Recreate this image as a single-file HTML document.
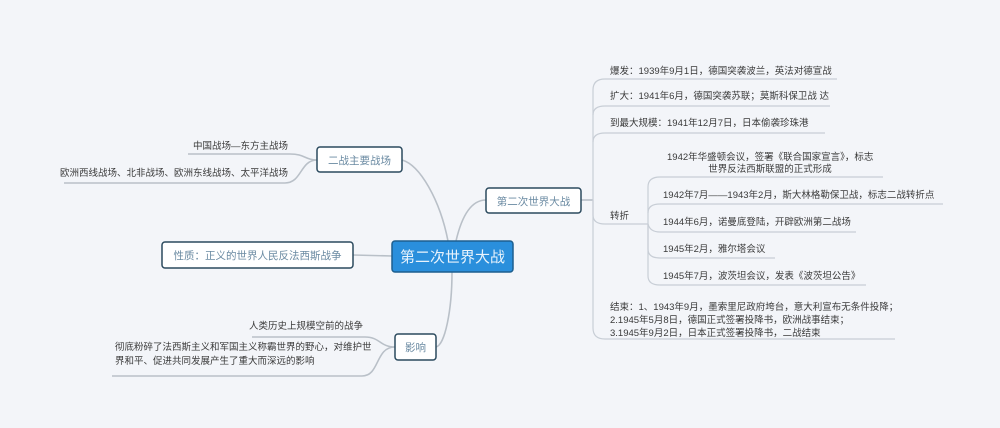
<!DOCTYPE html>
<html><head><meta charset="utf-8"><style>
html,body{margin:0;padding:0;background:#f3f5f9;}
svg{display:block}
text{font-family:"Liberation Sans","Noto Sans CJK SC",sans-serif;fill:#3a3a3a;font-size:9.5px}
</style></head><body>
<svg width="1000" height="428" viewBox="0 0 1000 428" xmlns="http://www.w3.org/2000/svg">
<rect width="1000" height="428" fill="#f3f5f9"/>
<g fill="none" stroke="#b9c0c8" stroke-width="1.6">
<path d="M448 241 C440 200 420 165 402 160"/>
<path d="M456 241 C462 215 472 200 486 200"/>
<path d="M392 256 L353 255"/>
<path d="M452 272 C452 310 445 345 436 347"/>
<path d="M581 200 L593 200"/>
<path d="M317 160 C305 160 305 154 290 154 L188 154"/>
<path d="M317 160 C300 160 302 183 285 183 L64 183"/>
<path d="M395 347 C380 347 380 337 365 337 L252 337"/>
<path d="M395 347 C375 347 380 376 362 376 L112 376"/>
</g>
<g fill="none" stroke="#c8ced6" stroke-width="1.2">
<path d="M593 200 L593 90 Q593 79 605 79 L837 79"/>
<path d="M593 115 Q593 106 605 106 L830 106"/>
<path d="M593 142 Q593 133 605 133 L825 133"/>
<path d="M593 200 L593 215 Q593 224 605 224 L648 224"/>
<path d="M593 200 L593 328 Q593 339 605 339 L895 339"/>
<path d="M648 224 L648 187 Q648 177 660 177 L883 177"/>
<path d="M648 213 Q648 204 660 204 L943 204"/>
<path d="M648 224 L648 224 Q650 232 660 232 L856 232"/>
<path d="M648 224 L648 249 Q648 258 660 258 L775 258"/>
<path d="M648 224 L648 276 Q648 285 660 285 L866 285"/>
</g>
<g stroke="#2b4a5e" stroke-width="1.5" fill="#ffffff">
<rect x="317" y="147" width="85" height="25" rx="3"/>
<rect x="486" y="188" width="95" height="25" rx="3"/>
<rect x="162" y="242" width="191" height="26" rx="3"/>
<rect x="395" y="334" width="41" height="26" rx="3"/>
</g>
<rect x="392" y="241" width="121" height="31" rx="3" fill="#2a8fdc" stroke="#1d5f8f" stroke-width="1.5"/>
<text x="359.5" y="164" text-anchor="middle" style="fill:#6a8aa2;font-size:10.5px">二战主要战场</text>
<text x="533.5" y="205" text-anchor="middle" style="fill:#6a8aa2;font-size:10.5px">第二次世界大战</text>
<text x="257.5" y="259" text-anchor="middle" style="fill:#6a8aa2;font-size:10.5px">性质：正义的世界人民反法西斯战争</text>
<text x="415.5" y="351" text-anchor="middle" style="fill:#6a8aa2;font-size:10.5px">影响</text>
<text x="452.5" y="262" text-anchor="middle" style="fill:#e8f3fc;font-size:15px">第二次世界大战</text>
<text x="288" y="149" text-anchor="end">中国战场—东方主战场</text>
<text x="288" y="176" text-anchor="end">欧洲西线战场、北非战场、欧洲东线战场、太平洋战场</text>
<text x="363" y="329" text-anchor="end">人类历史上规模空前的战争</text>
<text x="115" y="350">彻底粉碎了法西斯主义和军国主义称霸世界的野心，对维护世</text>
<text x="115" y="364">界和平、促进共同发展产生了重大而深远的影响</text>
<text x="610" y="74">爆发：1939年9月1日，德国突袭波兰，英法对德宣战</text>
<text x="610" y="99">扩大：1941年6月，德国突袭苏联；莫斯科保卫战 达</text>
<text x="610" y="126">到最大规模：1941年12月7日，日本偷袭珍珠港</text>
<text x="610" y="219">转折</text>
<text x="667" y="160">1942年华盛顿会议，签署《联合国家宣言》，标志</text>
<text x="770" y="172" text-anchor="middle">世界反法西斯联盟的正式形成</text>
<text x="663" y="198">1942年7月——1943年2月，斯大林格勒保卫战，标志二战转折点</text>
<text x="663" y="225">1944年6月，诺曼底登陆，开辟欧洲第二战场</text>
<text x="663" y="252">1945年2月，雅尔塔会议</text>
<text x="663" y="279">1945年7月，波茨坦会议，发表《波茨坦公告》</text>
<text x="610" y="310">结束：1、1943年9月，墨索里尼政府垮台，意大利宣布无条件投降；</text>
<text x="610" y="323">2.1945年5月8日，德国正式签署投降书，欧洲战事结束；</text>
<text x="610" y="336">3.1945年9月2日，日本正式签署投降书，二战结束</text>
</svg>
</body></html>
